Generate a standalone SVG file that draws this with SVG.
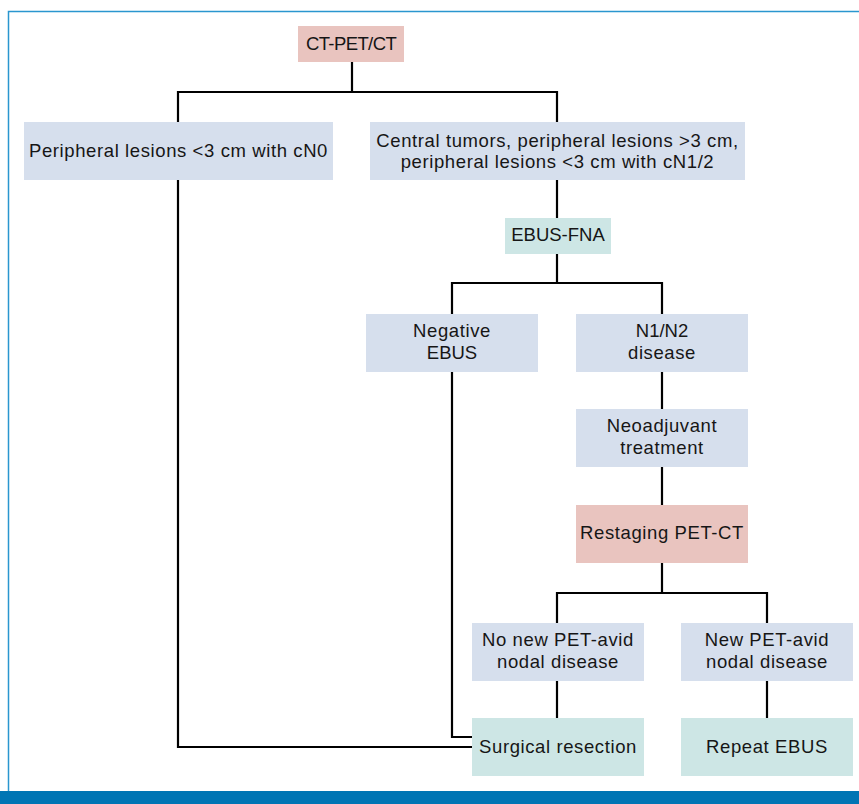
<svg xmlns="http://www.w3.org/2000/svg" width="859" height="804" viewBox="0 0 859 804">
<style>
.t{font-family:"Liberation Sans",Arial,sans-serif;font-size:18.5px;letter-spacing:0.6px;fill:#161616;text-anchor:middle}
.u{letter-spacing:0}
.pink{fill:#e9c4bf}
.blue{fill:#d6dfed}
.teal{fill:#cde6e5}
.c{fill:none;stroke:#000;stroke-width:2.2}
</style>
<rect x="0" y="0" width="859" height="804" fill="#fff"/>
<path d="M8.5 791 V11.5 H859" fill="none" stroke="#2a96cf" stroke-width="1.5"/>
<rect x="0" y="791" width="859" height="13" fill="#0075b4"/>
<g id="connectors">
<path class="c" d="M352 62 V92 M178 122 V92 H557 V122"/>
<path class="c" d="M178 180 V747 H472"/>
<path class="c" d="M557 180 V218"/>
<path class="c" d="M557 254 V283 M452 314 V283 H662 V314"/>
<path class="c" d="M452 372 V737 H472"/>
<path class="c" d="M662 372 V409 M662 467 V505 M662 563 V593"/>
<path class="c" d="M557 623 V593 H767 V623"/>
<path class="c" d="M557 681 V718 M767 681 V718"/>
</g>
<g id="ctpet"><rect class="pink" x="298" y="26" width="106" height="36"/><text class="t" style="letter-spacing:-0.6px" x="351" y="50">CT-PET/CT</text></g>
<g id="peripheral"><rect class="blue" x="24" y="122" width="309" height="58"/><text class="t" x="178.5" y="157">Peripheral lesions &lt;3 cm with cN0</text></g>
<g id="central"><rect class="blue" x="370" y="122" width="375" height="58"/><text class="t" x="557.5" y="147">Central tumors, peripheral lesions &gt;3 cm,</text><text class="t" x="557.5" y="168">peripheral lesions &lt;3 cm with cN1/2</text></g>
<g id="ebusfna"><rect class="teal" x="505" y="218" width="106" height="36"/><text class="t u" x="558" y="241">EBUS-FNA</text></g>
<g id="negative"><rect class="blue" x="366" y="314" width="172" height="58"/><text class="t" x="452" y="337">Negative</text><text class="t u" x="452" y="359">EBUS</text></g>
<g id="n1n2"><rect class="blue" x="576" y="314" width="172" height="58"/><text class="t u" x="662" y="337">N1/N2</text><text class="t" x="662" y="359">disease</text></g>
<g id="neoadjuvant"><rect class="blue" x="576" y="409" width="172" height="58"/><text class="t" x="662" y="432">Neoadjuvant</text><text class="t" x="662" y="454">treatment</text></g>
<g id="restaging"><rect class="pink" x="576" y="505" width="172" height="58"/><text class="t" x="662" y="539">Restaging PET-CT</text></g>
<g id="nonew"><rect class="blue" x="472" y="623" width="172" height="58"/><text class="t" x="558" y="646">No new PET-avid</text><text class="t" x="558" y="668">nodal disease</text></g>
<g id="newpet"><rect class="blue" x="681" y="623" width="172" height="58"/><text class="t" x="767" y="646">New PET-avid</text><text class="t" x="767" y="668">nodal disease</text></g>
<g id="surgical"><rect class="teal" x="472" y="718" width="172" height="58"/><text class="t" x="558" y="753">Surgical resection</text></g>
<g id="repeat"><rect class="teal" x="681" y="718" width="172" height="58"/><text class="t" x="767" y="753">Repeat EBUS</text></g>
</svg>
